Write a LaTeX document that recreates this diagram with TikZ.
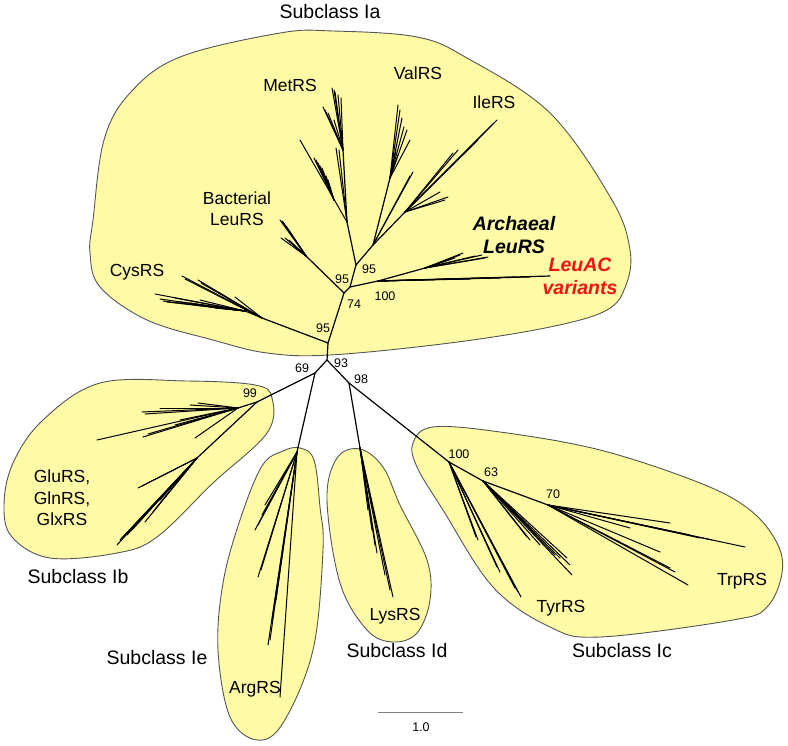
\documentclass[tikz,border=0pt]{standalone}
\usepackage{fontspec}
\setmainfont{Liberation Sans}
\definecolor{hullfill}{RGB}{255,250,165}
\definecolor{hullline}{RGB}{85,85,85}
\definecolor{leured}{RGB}{240,20,20}
\tikzset{
  hull/.style={fill=hullfill, draw=hullline, line width=0.9pt},
  br/.style={line width=1.2pt, line cap=round},
  tipline/.style={line width=1pt, line cap=round},
  lab/.style={font=\fontsize{17.5}{21}\selectfont, inner sep=0pt, align=center},
  sublab/.style={font=\fontsize{19.5}{23}\selectfont, inner sep=0pt},
  bsv/.style={font=\fontsize{12.5}{14}\selectfont, inner sep=0pt},
  emphlab/.style={font=\fontsize{19.5}{23}\selectfont\bfseries\itshape, inner sep=0pt, align=center}
}
\begin{document}
\begin{tikzpicture}[x=1pt,y=-1pt]
\useasboundingbox (0,0) rectangle (788,746);
% ---------------- hulls
\draw[hull] plot[smooth cycle, tension=0.6] coordinates {(280,33) (333,31) (417,37) (467,58) (550,113) (612,200) (630,250) (626,285) (607,310) (550,327) (450,343) (330,355) (267,353) (213,340) (147,320) (100,287) (90,253) (93,220) (104,140) (130,93) (180,57)};
\draw[hull] plot[smooth cycle, tension=0.6] coordinates {(100,383) (187,381) (255,385) (272,398) (267,433) (213,483) (157,537) (117,553) (50,558) (12,537) (4,505) (13,463) (43,420)};
\draw[hull] plot[smooth cycle, tension=0.6] coordinates {(300,448) (314,460) (320,507) (323,550) (313,650) (283,723) (257,740) (230,717) (218,650) (223,583) (240,520) (262,466) (283,451)};
\draw[hull] plot[smooth cycle, tension=0.6] coordinates {(360,449) (383,467) (400,505) (427,560) (430,600) (417,633) (393,642) (367,630) (340,583) (327,500) (337,458)};
\draw[hull] plot[smooth cycle, tension=0.6] coordinates {(433,427) (500,432) (600,450) (700,483) (750,510) (777,543) (782,573) (767,607) (733,620) (600,637) (550,627) (493,587) (443,510) (417,467) (413,443)};
% ---------------- tree: internal nodes
\coordinate (R) at (327,360);
\coordinate (Ia0) at (328,343);
\coordinate (A) at (344,293);
\coordinate (A2) at (350,287);
\coordinate (B) at (356,265);
\coordinate (Cys0) at (262,318);
\coordinate (Cys1) at (245,311);
\coordinate (Bac0) at (306,256);
\coordinate (L0) at (378,281);
\coordinate (LeuAC) at (550,276);
\coordinate (Ar0) at (425,268);
\coordinate (M0) at (347,222);
\coordinate (M1) at (334,200);
\coordinate (M2) at (343,150);
\coordinate (V0) at (373,245);
\coordinate (V1) at (390,178);
\coordinate (I0) at (405,212);
\coordinate (N69) at (315,373);
\coordinate (Ib0) at (257,402);
\coordinate (Ib1) at (238,408);
\coordinate (Ib2) at (197,458);
\coordinate (Ie0) at (297,452);
\coordinate (N98) at (349,383);
\coordinate (Id0) at (360,448);
\coordinate (N100) at (449,462);
\coordinate (N63) at (483,481);
\coordinate (N70) at (548,505);
% ---------------- tree: branches
\draw[br] (R) -- (Ia0);
\draw[br] (Ia0) -- (Cys0);
\draw[br] (Ia0) -- (A);
\draw[br] (A) -- (A2);
\draw[br] (A2) -- (B);
\draw[br] (A) -- (Bac0);
\draw[br] (A2) -- (L0);
\draw[br] (L0) -- (LeuAC);
\draw[br] (L0) -- (Ar0);
\draw[br] (B) -- (M0);
\draw[br] (M0) -- (M2);
\draw[br] (B) -- (V0);
\draw[br] (V0) -- (V1);
\draw[br] (V0) -- (I0);
\draw[br] (R) -- (N69);
\draw[br] (N69) -- (Ib0);
\draw[br] (Ib0) -- (Ib1);
\draw[br] (Ib0) -- (Ib2);
\draw[br] (N69) -- (Ie0);
\draw[br] (R) -- (N98);
\draw[br] (N98) -- (Id0);
\draw[br] (N98) -- (N100);
\draw[br] (N100) -- (N63);
\draw[br] (N63) -- (N70);
% ---------------- tree: terminal fans
\foreach \x/\y in {182/276, 185/279, 198/280, 201/283, 235/297, 228/300} \draw[tipline] (Cys0) -- (\x,\y);
\draw[tipline] (Cys0) -- (Cys1);
\foreach \x/\y in {155/294, 160/299, 163/301, 167/302, 175/298, 180/302, 190/303, 195/305, 205/306, 210/307, 215/308, 200/300} \draw[tipline] (Cys1) -- (\x,\y);
\foreach \x/\y in {280/220, 282/221, 283/222, 286/226, 288/229, 281/238, 285/238, 289/240, 295/247} \draw[tipline] (Bac0) -- (\x,\y);
\foreach \x/\y in {470/279, 490/278, 500/278, 515/277, 530/277} \draw[tipline] (L0) -- (\x,\y);
\foreach \x/\y in {488/257, 485/258, 463/253, 460/255, 475/256, 482/255, 455/258, 448/260} \draw[tipline] (Ar0) -- (\x,\y);
\foreach \x/\y in {300/140, 339/150, 336/148} \draw[tipline] (M0) -- (\x,\y);
\foreach \x/\y in {314/158, 316/160, 318/163, 320/166, 322/168, 326/176, 328/180} \draw[tipline] (M1) -- (\x,\y);
\foreach \x/\y in {332/88, 334/90, 335/92, 338/95, 341/98, 323/107, 325/110, 328/113, 334/120} \draw[tipline] (M2) -- (\x,\y);
\foreach \x/\y in {398/105, 400/110, 402/118, 404/127, 407/130, 396/150, 398/155, 410/140} \draw[tipline] (V1) -- (\x,\y);
\foreach \x/\y in {413/172, 410/176} \draw[tipline] (V0) -- (\x,\y);
\foreach \x/\y in {497/120, 494/123, 492/125, 485/132, 478/140, 448/197, 445/200, 440/192, 453/153, 458/150} \draw[tipline] (I0) -- (\x,\y);
\foreach \x/\y in {97/440, 142/412, 145/414, 198/403, 190/405, 160/408, 143/437, 148/434, 195/438, 175/425, 180/420} \draw[tipline] (Ib1) -- (\x,\y);
\foreach \x/\y in {138/488, 142/486, 117/545, 120/540, 122/538, 153/512, 156/508, 160/500, 132/530, 145/522, 127/535} \draw[tipline] (Ib2) -- (\x,\y);
\foreach \x/\y in {280/697, 255/530, 258/525, 262/515, 265/505, 258/577, 261/570, 268/645, 270/640, 276/600, 272/620} \draw[tipline] (Ie0) -- (\x,\y);
\foreach \x/\y in {393/597, 390/590, 377/553, 375/545, 372/530, 368/510, 385/575} \draw[tipline] (Id0) -- (\x,\y);
\foreach \x/\y in {476/537, 478/540, 497/567, 521/597, 518/592, 515/588, 500/572} \draw[tipline] (N100) -- (\x,\y);
\foreach \x/\y in {567/558, 570/565, 572/575, 527/537, 530/540, 540/545, 555/555, 560/558} \draw[tipline] (N63) -- (\x,\y);
\foreach \x/\y in {688/585, 670/568, 675/572, 630/528, 745/547, 670/523, 712/540, 690/535, 700/538, 660/552} \draw[tipline] (N70) -- (\x,\y);
% ---------------- labels
\node[sublab] (tIa) at (330,12) {Subclass Ia};
\node[sublab] (tIb) at (78,577) {Subclass Ib};
\node[sublab] (tIe) at (157,658) {Subclass Ie};
\node[sublab] (tId) at (397,651) {Subclass Id};
\node[sublab] (tIc) at (622,651) {Subclass Ic};
\node[lab] (tMet) at (290,85) {MetRS};
\node[lab] (tVal) at (418,73) {ValRS};
\node[lab] (tIle) at (494,102) {IleRS};
\node[lab] (tBac) at (237,209) {Bacterial\\LeuRS};
\node[lab] (tCys) at (137,272) {CysRS};
\node[emphlab] (tArc) at (514,235) {Archaeal\\LeuRS};
\node[emphlab, text=leured] (tLeuAC) at (580,276) {LeuAC\\variants};
\node[lab, font=\fontsize{17.5}{21.5}\selectfont] (tGlx) at (62,498) {GluRS,\\GlnRS,\\GlxRS};
\node[lab] (tArg) at (255,689) {ArgRS};
\node[lab] (tLys) at (395,616) {LysRS};
\node[lab] (tTyr) at (561,608) {TyrRS};
\node[lab] (tTrp) at (742,581) {TrpRS};
% bootstrap values
\node[bsv] (b1) at (323,328) {95};
\node[bsv] (b2) at (354,304) {74};
\node[bsv] (b3) at (342,279) {95};
\node[bsv] (b4) at (369,269) {95};
\node[bsv] (b5) at (385,296) {100};
\node[bsv] (b6) at (341,363) {93};
\node[bsv] (b7) at (302,368) {69};
\node[bsv] (b8) at (361,379) {98};
\node[bsv] (b9) at (250,393) {99};
\node[bsv] (b10) at (459,454) {100};
\node[bsv] (b11) at (491,472) {63};
\node[bsv] (b12) at (553,494) {70};
% scale bar
\coordinate (sb1) at (378,712);
\coordinate (sb2) at (463,712);
\draw[line width=1pt, gray] (sb1) -- (sb2);
\node[bsv] (sbl) at (421,727) {1.0};
\end{tikzpicture}
\end{document}
